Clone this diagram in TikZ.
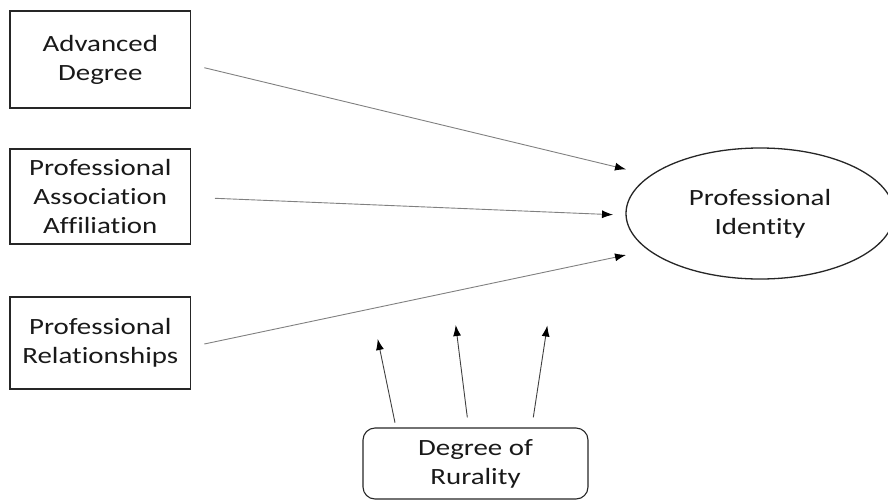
\documentclass[tikz,border=0pt]{standalone}
\usepackage{fontspec}
\setmainfont{Carlito}[FakeStretch=1.24,Ligatures=NoCommon]
\usetikzlibrary{arrows.meta,shapes.geometric}
\begin{document}
\begin{tikzpicture}[x=1pt,y=-1pt,
  txt/.style={align=center, text=black!90, font=\fontsize{23.3}{29}\selectfont},
  box/.style={txt, draw=black!85, line width=1.1pt, minimum width=180.7pt, minimum height=#1, inner sep=0pt},
  oval/.style={txt, draw=black!85, ellipse, line width=1.3pt, minimum width=268pt, minimum height=131pt, inner sep=0pt},
  rbox/.style={txt, draw=black!85, line width=1.1pt, rounded corners=12pt, minimum width=225pt, minimum height=71pt, inner sep=0pt},
  arrg/.style={draw=black!50, line width=0.9pt, -{Latex[length=11pt,width=8pt,color=black]}},
  arrd/.style={draw=black!75, line width=0.9pt, -{Latex[length=11pt,width=8pt,color=black]}}
]
\useasboundingbox (0,0) rectangle (888,501);

\node[box=97pt] (adv) at (100.3,59.5) {Advanced\\Degree};
\node[box=95pt] (paa) at (100.3,196.5) {Professional\\Association\\Affiliation};
\node[box=92pt] (prl) at (100.3,343) {Professional\\Relationships};
\node[oval] (pid) at (760,213.5) {Professional\\Identity};
\node[rbox] (dor) at (475.5,463.5) {Degree of\\Rurality};

\coordinate (s1) at (204.3,67.7);  \coordinate (e1) at (626,169.3);
\coordinate (s2) at (215,198.3);   \coordinate (e2) at (613,214.7);
\coordinate (s3) at (204.3,344);   \coordinate (e3) at (626,255);
\coordinate (u1s) at (395,422.7);  \coordinate (u1e) at (377.7,339);
\coordinate (u2s) at (467.3,417.3);\coordinate (u2e) at (455.7,325);
\coordinate (u3s) at (533.3,417.3);\coordinate (u3e) at (547.3,325.5);

\draw[arrg] (s1) -- (e1);
\draw[arrg] (s2) -- (e2);
\draw[arrg] (s3) -- (e3);
\draw[arrd] (u1s) -- (u1e);
\draw[arrd] (u2s) -- (u2e);
\draw[arrd] (u3s) -- (u3e);
\end{tikzpicture}
\end{document}
